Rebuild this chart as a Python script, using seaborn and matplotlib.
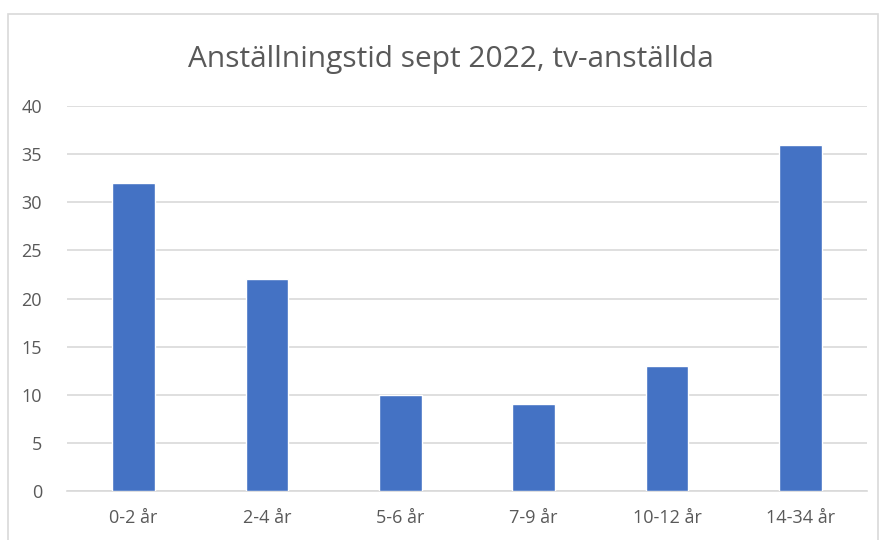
import matplotlib
matplotlib.use("Agg")
import matplotlib.pyplot as plt
import seaborn as sns
import pandas as pd
from matplotlib.patches import Rectangle

# data
kategorier = ["0-2 år", "2-4 år", "5-6 år", "7-9 år", "10-12 år", "14-34 år"]
antal = [32, 22, 10, 9, 13, 36]
y_ticks = [0, 5, 10, 15, 20, 25, 30, 35, 40]

df = pd.DataFrame({"kategori": kategorier, "antal": antal})

sns.set_style("white")
plt.rcParams["font.family"] = ["Open Sans", "DejaVu Sans"]

fig = plt.figure(figsize=(8.85, 5.4), dpi=100)
ax = fig.add_axes([67 / 885, 1 - 491 / 540, 800 / 885, 385 / 540])

sns.barplot(data=df, x="kategori", y="antal", color="#4472C4", saturation=1,
            width=0.32, ax=ax, zorder=3)

ax.set_xlim(-0.5, len(kategorier) - 0.5)
ax.set_ylim(0, 40)
ax.set_yticks(y_ticks)
ax.yaxis.grid(True, color="#D9D9D9", linewidth=1.2, zorder=0)
ax.set_axisbelow(True)
for s in ["top", "right", "left"]:
    ax.spines[s].set_visible(False)
ax.spines["bottom"].set_color("#D9D9D9")
ax.spines["bottom"].set_linewidth(1.2)
ax.tick_params(axis="both", length=0, labelsize=13, labelcolor="#595959")
ax.tick_params(axis="y", pad=18)
ax.tick_params(axis="x", pad=13)
ax.set_xlabel("")
ax.set_ylabel("")

# chart frame (lower edge cut off like the screenshot)
fig.patches.append(Rectangle((8 / 885, -0.05), 870 / 885, 1.05 - 14 / 540,
                             transform=fig.transFigure, fill=False,
                             edgecolor="#D9D9D9", linewidth=1.2))

fig.text(451 / 885, 1 - 59 / 540, "Anställningstid sept 2022, tv-anställda",
         ha="center", va="center", fontsize=21.5, color="#595959")

fig.savefig("out.png", dpi=100)
